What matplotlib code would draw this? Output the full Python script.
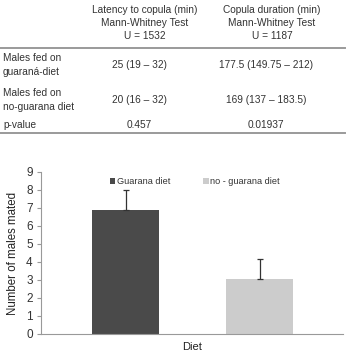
import matplotlib
matplotlib.use("Agg")
from matplotlib import pyplot as plt
from matplotlib.lines import Line2D

plt.rcParams['font.family'] = ['Liberation Sans', 'DejaVu Sans']

# table data
col_headers = [
    "Latency to copula (min)\nMann-Whitney Test\nU = 1532",
    "Copula duration (min)\nMann-Whitney Test\nU = 1187",
]
row_labels = ["Males fed on\nguaraná-diet", "Males fed on\nno-guarana diet", "p-value"]
latency_vals = ["25 (19 – 32)", "20 (16 – 32)", "0.457"]
duration_vals = ["177.5 (149.75 – 212)", "169 (137 – 183.5)", "0.01937"]

# bar chart data
diets = ["Guarana diet", "no - guarana diet"]
males_mated = [6.9, 3.05]
err_upper = [1.1, 1.1]
bar_colors = ['#4a4a4a', '#cccccc']

W, H = 348, 351
fig = plt.figure(figsize=(W / 100, H / 100), dpi=100)


def fx(px):
    return px / W


def fy(py):
    return 1 - py / H


tfont = dict(fontsize=7.3, color='#333333')

# header
header_x = [145, 272]
for hx, txt in zip(header_x, col_headers):
    fig.text(fx(hx), fy(23), txt, ha='center', va='center', linespacing=1.42, **tfont)

fig.add_artist(Line2D([fx(0), fx(345)], [fy(48), fy(48)], color='#9a9a9a', lw=1.4))
fig.add_artist(Line2D([fx(0), fx(345)], [fy(133), fy(133)], color='#9a9a9a', lw=1.4))

row_y = [65, 100, 125]
val_x = [139, 266]
for ry, lab, v1, v2 in zip(row_y, row_labels, latency_vals, duration_vals):
    fig.text(fx(3), fy(ry), lab, ha='left', va='center', linespacing=1.5, **tfont)
    fig.text(fx(val_x[0]), fy(ry), v1, ha='center', va='center', **tfont)
    fig.text(fx(val_x[1]), fy(ry), v2, ha='center', va='center', **tfont)

# chart
ax = fig.add_axes([fx(41), fy(334), fx(343) - fx(41), fy(172) - fy(334)])
x = [0, 1]
for i in range(len(diets)):
    ax.bar(x[i], males_mated[i], width=0.5, color=bar_colors[i], label=diets[i],
           yerr=[[0], [err_upper[i]]], error_kw=dict(ecolor='#333333', elinewidth=0.9,
                                                    capsize=2, capthick=0.9))
ax.set_xlim(-0.63, 1.62)
ax.set_ylim(0, 9)
ax.set_yticks(range(0, 10))
ax.set_xticks([])
for s in ['top', 'right']:
    ax.spines[s].set_visible(False)
for s in ['left', 'bottom']:
    ax.spines[s].set_color('#999999')
    ax.spines[s].set_linewidth(0.8)
ax.tick_params(axis='y', colors='#999999', labelcolor='#333333', labelsize=8.5, length=3, pad=3)
ax.set_ylabel("Number of males mated", fontsize=8.3, color='#222222', labelpad=5)
ax.set_xlabel("Diet", fontsize=8, color='#222222', labelpad=6)
ax.legend(loc='upper center', bbox_to_anchor=(0.51, 1.02), ncol=2, frameon=False,
          fontsize=6.6, handlelength=0.6, handleheight=0.6, handletextpad=0.2,
          columnspacing=3.55, labelcolor='#333333')

fig.savefig("out.png", dpi=100)
